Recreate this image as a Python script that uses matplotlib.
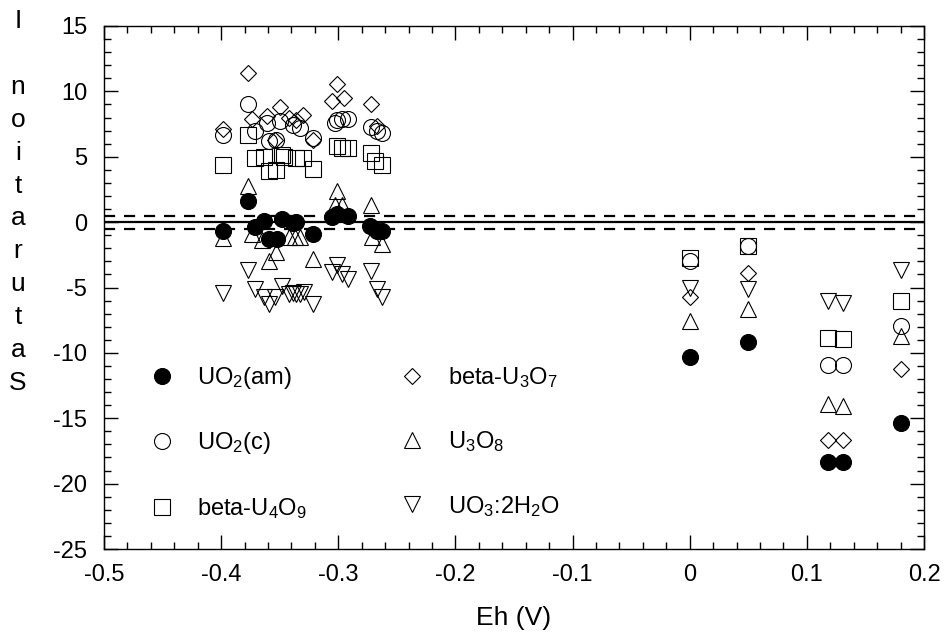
import matplotlib
matplotlib.use("Agg")
import matplotlib.pyplot as plt
from matplotlib.ticker import MultipleLocator

plt.rcParams['font.family'] = ['Liberation Sans', 'DejaVu Sans']
plt.rcParams['mathtext.fontset'] = 'custom'
plt.rcParams['mathtext.rm'] = 'Liberation Sans'
plt.rcParams['mathtext.it'] = 'Liberation Sans:italic'
plt.rcParams['mathtext.bf'] = 'Liberation Sans:bold'
plt.rcParams['axes.unicode_minus'] = False

# ---- data ----
uo2am_x = [-0.398, -0.377, -0.371, -0.363, -0.359, -0.352, -0.348, -0.339, -0.336, -0.322,
           -0.305, -0.301, -0.292, -0.273, -0.267, -0.263, 0.0, 0.05, 0.118, 0.131, 0.18]
uo2am_y = [-0.7, 1.6, -0.35, 0.1, -1.3, -1.3, 0.25, -0.1, 0.0, -0.9,
           0.4, 0.65, 0.5, -0.3, -0.65, -0.7, -10.35, -9.2, -18.35, -18.35, -15.4]

uo2c_x = [-0.377, -0.398, -0.371, -0.361, -0.350, -0.359, -0.353, -0.339, -0.333, -0.322,
          -0.301, -0.297, -0.292, -0.303, -0.272, -0.267, -0.263, 0.0, 0.05, 0.118, 0.131, 0.18]
uo2c_y = [9.0, 6.65, 7.0, 7.6, 7.7, 6.2, 6.3, 7.4, 7.2, 6.4,
          7.8, 7.9, 7.9, 7.6, 7.3, 7.0, 6.8, -2.96, -1.8, -10.96, -10.96, -7.96]

u4o9_x = [-0.398, -0.377, -0.371, -0.363, -0.359, -0.353, -0.348, -0.346, -0.336, -0.330,
          -0.322, -0.301, -0.297, -0.292, -0.272, -0.269, -0.263, 0.0, 0.05, 0.118, 0.131, 0.18]
u4o9_y = [4.4, 6.65, 4.9, 5.0, 3.9, 4.0, 5.1, 5.0, 4.9, 4.9,
          4.1, 5.8, 5.65, 5.65, 5.3, 4.65, 4.4, -2.73, -1.8, -8.9, -8.95, -6.04]

u3o7_x = [-0.377, -0.398, -0.374, -0.361, -0.350, -0.342, -0.354, -0.336, -0.330, -0.322,
          -0.301, -0.305, -0.295, -0.272, -0.267, 0.0, 0.05, 0.118, 0.131, 0.18]
u3o7_y = [11.4, 7.1, 7.9, 8.1, 8.8, 8.0, 6.3, 7.8, 8.2, 6.3,
          10.6, 9.3, 9.5, 9.0, 7.35, -5.73, -3.88, -16.7, -16.7, -11.2]

u3o8_x = [-0.377, -0.398, -0.374, -0.365, -0.359, -0.353, -0.342, -0.337, -0.333, -0.322,
          -0.301, -0.303, -0.297, -0.272, -0.271, -0.263, 0.0, 0.05, 0.118, 0.131, 0.18]
u3o8_y = [2.75, -1.2, -0.9, -1.4, -3.0, -2.3, -1.1, -1.1, -1.1, -2.85,
          2.4, 1.3, 1.3, 1.3, -1.1, -1.65, -7.58, -6.65, -13.9, -14.05, -8.73]

uo3_x = [-0.377, -0.398, -0.371, -0.363, -0.359, -0.354, -0.348, -0.342, -0.339, -0.336,
         -0.333, -0.329, -0.322, -0.301, -0.305, -0.297, -0.292, -0.272, -0.267, -0.263,
         0.0, 0.05, 0.118, 0.131, 0.18]
uo3_y = [-3.65, -5.4, -5.1, -5.7, -6.3, -5.7, -4.9, -5.5, -5.4, -5.5,
         -5.5, -5.35, -6.3, -3.3, -3.8, -4.0, -4.35, -3.73, -5.1, -5.7,
         -5.04, -5.1, -6.04, -6.2, -3.65]

ref_level = 0.0
ref_band = 0.5

labels = [r'UO$_2$(am)', r'UO$_2$(c)', r'beta-U$_4$O$_9$',
          r'beta-U$_3$O$_7$', r'U$_3$O$_8$', r'UO$_3$:2H$_2$O']

xticks = [-0.5, -0.4, -0.3, -0.2, -0.1, 0, 0.1, 0.2]
xticklabels = ['-0.5', '-0.4', '-0.3', '-0.2', '-0.1', '0', '0.1', '0.2']
yticks = [15, 10, 5, 0, -5, -10, -15, -20, -25]

# ---- figure ----
fig = plt.figure(figsize=(9.46, 6.38), dpi=100)
top_px, bot_px = 26, 549
ax = fig.add_axes([104/946, 1-bot_px/638, (924-104)/946, (bot_px-top_px)/638])

mew = 0.8
h1, = ax.plot(uo2am_x, uo2am_y, 'o', ms=11.5, mfc='black', mec='black', mew=mew, zorder=5)
h2, = ax.plot(uo2c_x, uo2c_y, 'o', ms=11.5, mfc='none', mec='black', mew=mew, zorder=3)
h3, = ax.plot(u4o9_x, u4o9_y, 's', ms=11, mfc='none', mec='black', mew=mew, zorder=3)
h4, = ax.plot(u3o7_x, u3o7_y, 'D', ms=8.3, mfc='none', mec='black', mew=mew, zorder=3)
h5, = ax.plot(u3o8_x, u3o8_y, '^', ms=11.5, mfc='none', mec='black', mew=mew, zorder=3)
h6, = ax.plot(uo3_x, uo3_y, 'v', ms=11.5, mfc='none', mec='black', mew=mew, zorder=3)

ax.axhline(ref_level, color='black', lw=1.6, zorder=2)
ax.axhline(ref_level + ref_band, color='black', lw=1.6, ls=(0, (5, 4)), zorder=2)
ax.axhline(ref_level - ref_band, color='black', lw=1.6, ls=(0, (5, 4)), zorder=2)

ax.set_xlim(-0.5, 0.2)
ax.set_ylim(-25, 15)
ax.set_xticks(xticks)
ax.set_xticklabels(xticklabels)
ax.set_yticks(yticks)
ax.xaxis.set_minor_locator(MultipleLocator(0.02))
ax.yaxis.set_minor_locator(MultipleLocator(1))
ax.tick_params(which='both', direction='in', top=True, right=True, labelsize=17, width=1)
ax.tick_params(which='major', length=10)
ax.tick_params(which='minor', length=5)
ax.tick_params(axis='x', which='major', pad=11)
ax.tick_params(axis='y', which='major', pad=12)
for s in ax.spines.values():
    s.set_linewidth(1)

ax.set_xlabel('Eh (V)', fontsize=19, labelpad=14)

# vertical stacked y-axis label
ylab = 'Saturation I'
stacked = '\n'.join(reversed(ylab)).replace('\n \n', '\n\n')
fig.text(18/946, 1-202/638, stacked, ha='center', va='center', fontsize=19, linespacing=1.47)

handles = [h1, h2, h3, h4, h5, h6]
leg = ax.legend(handles, labels, ncol=2, frameon=False, loc='upper left',
                bbox_to_anchor=(150/946, 1-365/638), bbox_transform=fig.transFigure,
                fontsize=17, handlelength=1.0, handletextpad=1.0, columnspacing=3.95,
                labelspacing=1.67, borderpad=0, borderaxespad=0, numpoints=1)

fig.savefig('out.png', dpi=100)
